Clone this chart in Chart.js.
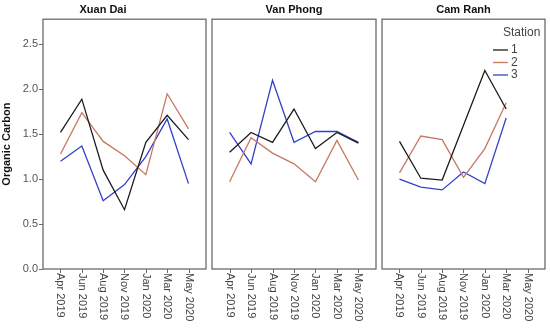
<!DOCTYPE html>
<html>
<head>
<meta charset="utf-8">
<script src="https://cdn.jsdelivr.net/npm/chart.js@4"></script>
<style>
  body { margin: 0; background: #fff; }
  #wrap { position: relative; width: 550px; height: 328px; }
  .pane { position: absolute; top: 0; height: 328px; }
</style>
</head>
<body>
<div id="wrap">
  <div class="pane" style="left:0;width:208px"><canvas id="c1"></canvas></div>
  <div class="pane" style="left:210px;width:168px"><canvas id="c2"></canvas></div>
  <div class="pane" style="left:380px;width:168px"><canvas id="c3"></canvas></div>
</div>
<script>
// categories (sampling months)
const months = ['Apr 2019', 'Jun 2019', 'Aug 2019', 'Nov 2019', 'Jan 2020', 'Mar 2020', 'May 2020'];
const sites = ['Xuan Dai', 'Van Phong', 'Cam Ranh'];
const stations = ['1', '2', '3'];
const stationColors = ['#1c1c1c', '#c8775f', '#3242c8'];

// organic carbon, one array per site and station
const xuanDai1 = [1.52, 1.89, 1.10, 0.66, 1.41, 1.71, 1.44];
const xuanDai2 = [1.28, 1.74, 1.42, 1.26, 1.05, 1.95, 1.56];
const xuanDai3 = [1.20, 1.37, 0.76, 0.94, 1.25, 1.67, 0.95];

const vanPhong1 = [1.30, 1.52, 1.41, 1.78, 1.34, 1.52, 1.40];
const vanPhong2 = [0.97, 1.46, 1.29, 1.17, 0.97, 1.43, 0.99];
const vanPhong3 = [1.52, 1.17, 2.10, 1.41, 1.53, 1.53, 1.41];

const camRanh1 = [1.42, 1.01, 0.99, 1.60, 2.21, 1.78, null];
const camRanh2 = [1.07, 1.48, 1.44, 1.02, 1.34, 1.85, null];
const camRanh3 = [1.00, 0.91, 0.88, 1.08, 0.95, 1.68, null];

const yTicks = [0, 0.5, 1.0, 1.5, 2.0, 2.5];

const siteData = [
  [xuanDai1, xuanDai2, xuanDai3],
  [vanPhong1, vanPhong2, vanPhong3],
  [camRanh1, camRanh2, camRanh3]
];

const FONT = 'Arial, "Liberation Sans", sans-serif';

// frame, x ticks and rotated month labels
const framePlugin = {
  id: 'frame',
  afterDraw(chart) {
    const ctx = chart.ctx;
    const a = chart.chartArea;
    const xs = chart.scales.x;
    ctx.save();
    ctx.strokeStyle = '#6a6a6a';
    ctx.lineWidth = 1.3;
    ctx.strokeRect(a.left, a.top, a.right - a.left, a.bottom - a.top);
    ctx.lineWidth = 1;
    ctx.fillStyle = '#444';
    ctx.font = '11px ' + FONT;
    months.forEach((m, i) => {
      const x = Math.round(xs.getPixelForValue(i)) + 0.5;
      ctx.beginPath();
      ctx.moveTo(x, a.bottom);
      ctx.lineTo(x, a.bottom + 4);
      ctx.stroke();
      ctx.save();
      ctx.translate(x, a.bottom + 4);
      ctx.rotate(Math.PI / 2);
      ctx.textAlign = 'left';
      ctx.textBaseline = 'middle';
      ctx.fillText(m, 0, 0);
      ctx.restore();
    });
    if (chart.options.plugins.stationKey) {
      ctx.textBaseline = 'middle';
      ctx.textAlign = 'left';
      ctx.fillStyle = '#444';
      ctx.font = '12px ' + FONT;
      ctx.fillText('Station', 123, 33);
      stations.forEach((s, i) => {
        const y = 50 + i * 12.5;
        ctx.strokeStyle = stationColors[i];
        ctx.lineWidth = 1.3;
        ctx.beginPath();
        ctx.moveTo(113, y);
        ctx.lineTo(128, y);
        ctx.stroke();
        ctx.fillText(s, 131, y);
      });
    }
    ctx.restore();
  }
};

function makeChart(id, idx, showY, padL, padR, width) {
  const canvas = document.getElementById(id);
  canvas.width = width;
  canvas.height = 328;
  return new Chart(canvas, {
    type: 'line',
    data: {
      datasets: siteData[idx].map((vals, s) => ({
        label: stations[s],
        data: vals.map((v, i) => ({ x: i, y: v })),
        borderColor: stationColors[s],
        borderWidth: 1.3,
        pointRadius: 0,
        tension: 0,
        spanGaps: false
      }))
    },
    options: {
      responsive: false,
      animation: false,
      layout: { padding: { left: padL, right: padR, top: 0, bottom: 0 } },
      plugins: {
        legend: { display: false },
        tooltip: { enabled: false },
        stationKey: idx === 2,
        title: {
          display: true,
          text: sites[idx],
          color: '#111',
          font: { family: FONT, size: 11, weight: 'bold' },
          padding: { top: 3, bottom: 3 }
        }
      },
      scales: {
        x: {
          type: 'linear',
          min: -0.82,
          max: 6.82,
          ticks: { display: false },
          grid: { display: false },
          border: { display: false },
          afterFit: (s) => { s.height = 59; }
        },
        y: {
          display: showY,
          min: 0,
          max: 2.78,
          afterBuildTicks: (s) => { s.ticks = yTicks.map(v => ({ value: v })); },
          afterFit: (s) => { s.width = showY ? 43 : 0; },
          ticks: {
            color: '#555',
            padding: 1,
            font: { family: FONT, size: 11 },
            callback: (v) => v.toFixed(1)
          },
          grid: { drawOnChartArea: false, tickLength: 4, color: '#6a6a6a' },
          border: { display: false },
          title: {
            display: true,
            text: 'Organic Carbon',
            color: '#111',
            padding: 0,
            font: { family: FONT, size: 11, weight: 'bold' }
          }
        }
      }
    },
    plugins: [framePlugin]
  });
}

makeChart('c1', 0, true, 0, 2, 208);
makeChart('c2', 1, false, 2, 2, 168);
makeChart('c3', 2, false, 2, 3, 168);
</script>
</body>
</html>
